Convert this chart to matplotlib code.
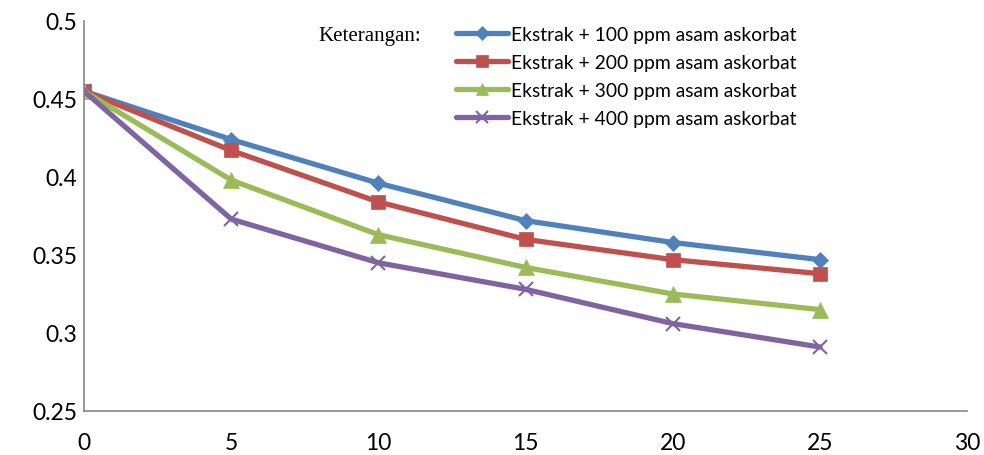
import matplotlib
matplotlib.use("Agg")
import matplotlib.pyplot as plt

x = [0, 5, 10, 15, 20, 25]
s100 = [0.455, 0.424, 0.396, 0.372, 0.358, 0.347]
s200 = [0.455, 0.417, 0.384, 0.360, 0.347, 0.338]
s300 = [0.455, 0.398, 0.363, 0.342, 0.325, 0.315]
s400 = [0.455, 0.373, 0.345, 0.328, 0.306, 0.291]
labels = ["Ekstrak + 100 ppm asam askorbat", "Ekstrak + 200 ppm asam askorbat",
          "Ekstrak + 300 ppm asam askorbat", "Ekstrak + 400 ppm asam askorbat"]
colors = ["#4F81BD", "#C0504D", "#9BBB59", "#8064A2"]
markers = ["D", "s", "^", "x"]
msizes = [8.5, 10.5, 11, 10]
xticks = [0, 5, 10, 15, 20, 25, 30]
yticks = [0.25, 0.3, 0.35, 0.4, 0.45, 0.5]
yticklabels = ["0.25", "0.3", "0.35", "0.4", "0.45", "0.5"]

plt.rcParams['font.family'] = ['Lato', 'DejaVu Sans']
fig = plt.figure(figsize=(9.84, 4.56), dpi=100)
ax = fig.add_axes([0.0854, 0.0965, 0.8976, 0.8553])

for ys, lab, c, m, ms in zip([s100, s200, s300, s400], labels, colors, markers, msizes):
    ax.plot(x, ys, color=c, lw=3.8, marker=m, markersize=ms, label=lab,
            markeredgewidth=1.5 if m == "x" else 0.5, markeredgecolor=c, solid_capstyle='round')

ax.set_xlim(0, 30)
ax.set_ylim(0.25, 0.5)
ax.set_xticks(xticks)
ax.set_yticks(yticks)
ax.set_yticklabels(yticklabels)
ax.tick_params(length=0, labelsize=16.5)
ax.tick_params(axis='x', pad=15)
ax.tick_params(axis='y', pad=5)
for sp in ['top', 'right']:
    ax.spines[sp].set_visible(False)
for sp in ['left', 'bottom']:
    ax.spines[sp].set_color('#868686')
    ax.spines[sp].set_linewidth(1.2)

leg = ax.legend(loc='upper left', bbox_to_anchor=(0.4125, 1.008), frameon=False,
                fontsize=13.9, handlelength=2.7, handletextpad=0.12, labelspacing=0.58,
                borderaxespad=0.0, markerscale=0.85)

fig.text(318/984, 1 - 36/456, "Keterangan:", family='Liberation Serif', fontsize=15,
         va='center', ha='left')

fig.savefig("out.png", dpi=100)
